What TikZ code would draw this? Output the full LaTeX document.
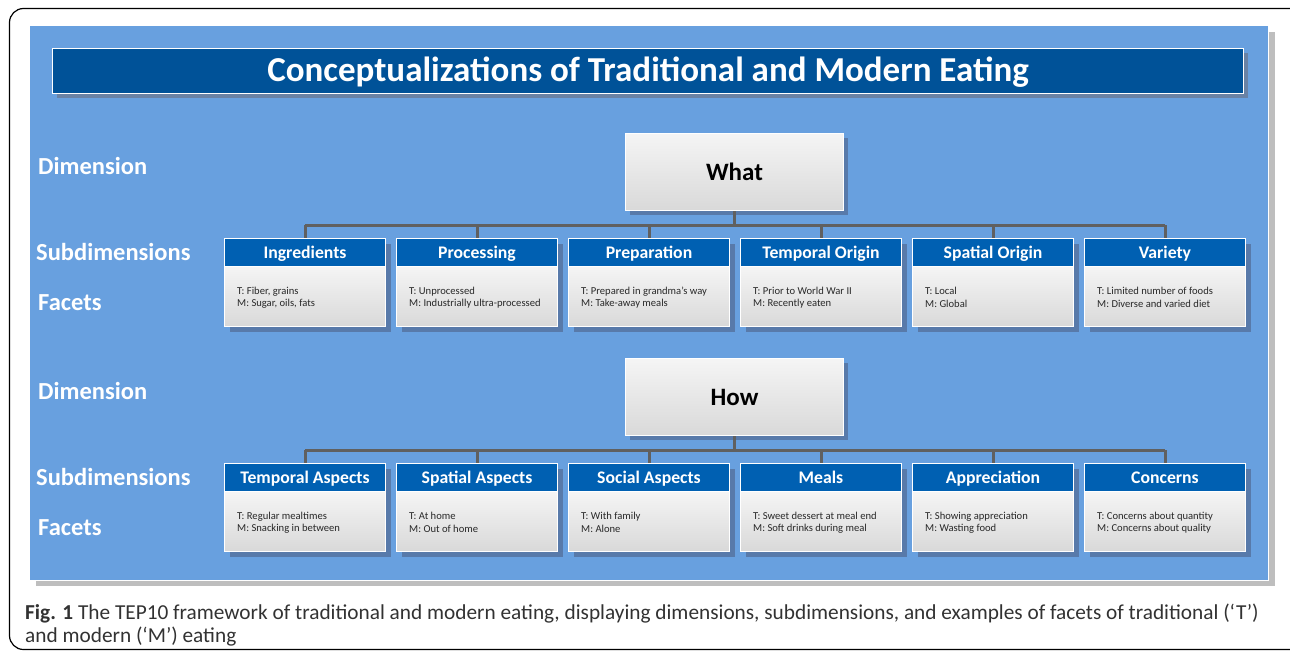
\documentclass[tikz,border=0pt]{standalone}
\usepackage{fontspec}
\setmainfont{Carlito}
\usetikzlibrary{positioning,calc}
\definecolor{panel}{RGB}{104,160,223}
\definecolor{panelshadow}{RGB}{190,190,190}
\definecolor{titleblue}{RGB}{0,82,152}
\definecolor{titleshadow}{RGB}{105,130,165}
\definecolor{headblue}{RGB}{0,96,178}
\definecolor{boxshadow}{RGB}{88,122,170}
\definecolor{linegray}{RGB}{96,96,96}
\definecolor{bodytext}{RGB}{40,40,40}
\definecolor{captext}{RGB}{50,50,50}
\tikzset{
  headbox/.style={draw=white, line width=1pt, fill=headblue, text=white,
    font=\fontsize{17.7}{20}\selectfont\bfseries, minimum width=161pt, minimum height=28pt,
    inner sep=0pt, anchor=north west, text height=12pt, text depth=1pt},
  bodybox/.style={draw=white, line width=1pt, top color=white!96!black, bottom color=white!85!black,
    minimum width=161pt, minimum height=60pt, inner sep=0pt, anchor=north west},
  facettext/.style={font=\fontsize{10.6}{12.5}\selectfont, text=bodytext, align=left, anchor=west, inner sep=0pt},
  dimbox/.style={draw=white, line width=1pt, top color=white!96!black, bottom color=white!85!black,
    minimum width=218pt, minimum height=77pt, inner sep=0pt, anchor=north west,
    font=\fontsize{25}{28}\selectfont\bfseries, text height=16pt, text depth=0pt},
  sidelabel/.style={font=\fontsize{24.5}{28}\selectfont\bfseries, text=white, anchor=west, inner sep=0pt},
  conn/.style={draw=linegray, line width=3pt}
}
\begin{document}
\begin{tikzpicture}[x=1pt,y=-1pt]
\useasboundingbox (0,0) rectangle (1290,651);
% outer frame
\begin{scope}
\clip (0,0) rectangle (1290,651);
\draw[line width=1.2pt, rounded corners=14pt] (9.5,8.5) rectangle (1310,649.5);
\end{scope}
% panel
\fill[panelshadow] (36,32) rectangle (1275,586);
\fill[panel] (30,26) rectangle (1268,580);
\draw[white, line width=0.8pt] (30,580) -- (1268,580) -- (1268,26);
% title
\fill[titleshadow] (57,53) rectangle (1248,98);
\node[draw=white, line width=1pt, fill=titleblue, minimum width=1191pt, minimum height=45pt, inner sep=0pt,
  anchor=north west, text=white, font=\fontsize{35}{38}\selectfont\bfseries,
  text height=23pt, text depth=3pt] (title) at (52,48)
  {Conceptualizations of Traditional and Modern Eating};

% side labels
\node[sidelabel] (dim1) at (38,166) {Dimension};
\node[sidelabel] (sub1) at (36,252) {Subdimensions};
\node[sidelabel] (fac1) at (38,303) {Facets};
\node[sidelabel] (dim2) at (38,391) {Dimension};
\node[sidelabel] (sub2) at (36,477) {Subdimensions};
\node[sidelabel] (fac2) at (38,528) {Facets};

% dimension boxes
\fill[boxshadow] (630,138) rectangle (848,215);
\node[dimbox] (what) at (625,133) {What};
\fill[boxshadow] (630,363) rectangle (848,440);
\node[dimbox] (how) at (625,358) {How};

% sub boxes row 1
\foreach \i/\x/\name/\t/\m in {
  1/224/Ingredients/{T: Fiber, grains}/{M: Sugar, oils, fats},
  2/396/Processing/{T: Unprocessed}/{M: Industrially ultra-processed},
  3/568/Preparation/{T: Prepared in grandma’s way}/{M: Take-away meals},
  4/740/Temporal Origin/{T: Prior to World War II}/{M: Recently eaten},
  5/912/Spatial Origin/{T: Local}/{M: Global},
  6/1084/Variety/{T: Limited number of foods}/{M: Diverse and varied diet}}{
  \fill[boxshadow] (\x+6,244) rectangle (\x+167,332);
  \node[headbox] (ha\i) at (\x,238) {\name};
  \node[bodybox] (ba\i) at (\x,266) {};
  \node[facettext] (fa\i) at (\x+13,297.5) {\t\\\m};
}
% sub boxes row 2
\foreach \i/\x/\name/\t/\m in {
  1/224/Temporal Aspects/{T: Regular mealtimes}/{M: Snacking in between},
  2/396/Spatial Aspects/{T: At home}/{M: Out of home},
  3/568/Social Aspects/{T: With family}/{M: Alone},
  4/740/Meals/{T: Sweet dessert at meal end}/{M: Soft drinks during meal},
  5/912/Appreciation/{T: Showing appreciation}/{M: Wasting food},
  6/1084/Concerns/{T: Concerns about quantity}/{M: Concerns about quality}}{
  \fill[boxshadow] (\x+6,469) rectangle (\x+167,557);
  \node[headbox] (hb\i) at (\x,463) {\name};
  \node[bodybox] (bb\i) at (\x,491) {};
  \node[facettext] (fb\i) at (\x+13,522.5) {\t\\\m};
}

% connectors
\coordinate (jwa) at ($(what.south)+(0,14)$);
\coordinate (jhb) at ($(how.south)+(0,14)$);
\draw[conn] (what.south) -- (jwa);
\draw[conn] (how.south) -- (jhb);
\draw[conn] (ha1.north |- jwa) -- (ha6.north |- jwa);
\draw[conn] (hb1.north |- jhb) -- (hb6.north |- jhb);
\foreach \i in {1,...,6}{
  \draw[conn] (ha\i.north |- jwa) -- (ha\i.north);
  \draw[conn] (hb\i.north |- jhb) -- (hb\i.north);
}

% caption
\node[anchor=north west, align=left, inner sep=0pt, text=captext,
  font=\fontsize{21.3}{23}\selectfont] (caption) at (25,604)
  {\textbf{Fig. 1} The TEP10 framework of traditional and modern eating, displaying dimensions, subdimensions, and examples of facets of traditional (‘T’)\\
  and modern (‘M’) eating};
\end{tikzpicture}
\end{document}
